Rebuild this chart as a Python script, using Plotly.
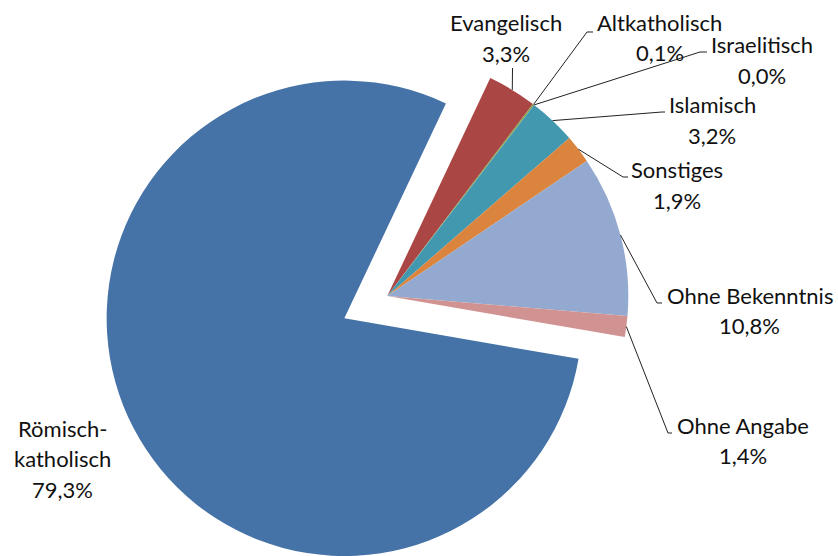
import math
import plotly.graph_objects as go

# Religionszugehörigkeit, Anteile in Prozent
categories = ["Evangelisch", "Altkatholisch", "Israelitisch", "Islamisch", "Sonstiges",
              "Ohne Bekenntnis", "Ohne Angabe", "Römisch-katholisch"]
shares = [3.3, 0.1, 0.0, 3.2, 1.9, 10.8, 1.4, 79.3]
value_labels = ["3,3%", "0,1%", "0,0%", "3,2%", "1,9%", "10,8%", "1,4%", "79,3%"]
name_lines = [["Evangelisch"], ["Altkatholisch"], ["Israelitisch"], ["Islamisch"],
              ["Sonstiges"], ["Ohne Bekenntnis"], ["Ohne Angabe"], ["Römisch-", "katholisch"]]
colors = ["#AA4643", "#89A54E", "#71588F", "#4198AF", "#DB843D",
          "#93A9CF", "#D19392", "#4572A7"]

# ---- geometry / style ----
W, H = 838, 556
START_DEG = 25.3          # first slice starts this far clockwise from 12 o'clock
RADIUS = 241.0
CX, CY = 387.3, 296.0     # pie centre in pixels
EXPLODE_PX = 48.4         # offset of the separated slice
EXPLODED = "Römisch-katholisch"
FONT = dict(family="Lato, Calibri, sans-serif", size=22, color="#111111")
LINE_GAP = 30.5

# label blocks: centre x and vertical middle of the first text line (pixels)
label_pos = {
    "Evangelisch": (506, 23),
    "Altkatholisch": (659.5, 22.5),
    "Israelitisch": (762, 44.5),
    "Islamisch": (712, 104.5),
    "Sonstiges": (677, 169.5),
    "Ohne Bekenntnis": (749.5, 295),
    "Ohne Angabe": (743, 425),
    "Römisch-katholisch": (62.5, 428.3),
}
# leader line bend points toward each label (pixels)
leader_pts = {
    "Evangelisch": [(512.5, 68)],
    "Altkatholisch": [(587, 32), (593, 32)],
    "Israelitisch": [(700, 52), (707, 52)],
    "Islamisch": [(662, 112), (665, 112)],
    "Sonstiges": [(623, 177), (628, 177)],
    "Ohne Bekenntnis": [(657, 303), (662, 303)],
    "Ohne Angabe": [(668, 433), (672, 433)],
}


def px_to_paper(x, y):
    return x / W, 1 - y / H


total = sum(shares)
mid_angles = {}
acc = START_DEG
for cat, v in zip(categories, shares):
    span = v / total * 360
    mid_angles[cat] = acc + span / 2
    acc += span


def edge_point(angle_deg, cx, cy, r):
    a = math.radians(angle_deg)
    return cx + r * math.sin(a), cy - r * math.cos(a)


# centre of the separated slice
ea = math.radians(mid_angles[EXPLODED])
BX = CX + EXPLODE_PX * math.sin(ea)
BY = CY - EXPLODE_PX * math.cos(ea)
RB = min(RADIUS, H - BY, BY, BX, W - BX)


def domain(cx, cy, r):
    x0, y1 = px_to_paper(cx - r, cy - r)
    x1, y0 = px_to_paper(cx + r, cy + r)
    return dict(x=[max(0, x0), min(1, x1)], y=[max(0, y0), min(1, y1)])


transparent = "rgba(0,0,0,0)"
colors_main = [transparent if c == EXPLODED else col for c, col in zip(categories, colors)]
colors_sep = [col if c == EXPLODED else transparent for c, col in zip(categories, colors)]

fig = go.Figure()
common = dict(labels=categories, values=shares, sort=False, direction="clockwise",
              rotation=START_DEG, textinfo="none", hoverinfo="label+percent",
              showlegend=False)
fig.add_trace(go.Pie(**common, marker=dict(colors=colors_main, line=dict(width=0)),
                     domain=domain(CX, CY, RADIUS)))
fig.add_trace(go.Pie(**common, marker=dict(colors=colors_sep, line=dict(width=0)),
                     domain=domain(BX, BY, RB)))

shapes = []
for cat, pts in leader_pts.items():
    sx, sy = edge_point(mid_angles[cat], CX, CY, RADIUS)
    path_pts = [(sx, sy)] + pts
    path = ""
    for i, (x, y) in enumerate(path_pts):
        px, py = px_to_paper(x, y)
        path += ("M" if i == 0 else " L") + f"{px:.5f},{py:.5f}"
    shapes.append(dict(type="path", path=path, xref="paper", yref="paper",
                       line=dict(color="#222222", width=1)))

annotations = []
for cat, lines, val in zip(categories, name_lines, value_labels):
    lx, ly = label_pos[cat]
    for j, txt in enumerate(lines + [val]):
        ax, ay = px_to_paper(lx, ly + j * LINE_GAP)
        annotations.append(dict(x=ax, y=ay, xref="paper", yref="paper", text=txt,
                                showarrow=False, xanchor="center", yanchor="middle",
                                font=FONT))

fig.update_layout(width=W, height=H, margin=dict(l=0, r=0, t=0, b=0),
                  paper_bgcolor="white", plot_bgcolor="white",
                  shapes=shapes, annotations=annotations)

fig.write_html("out.html")
